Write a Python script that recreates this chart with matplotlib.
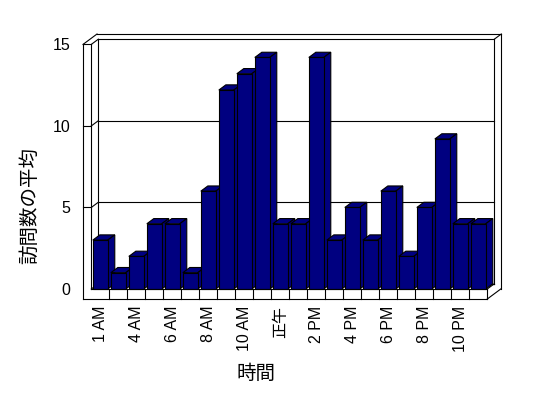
import numpy as np
import matplotlib.pyplot as plt
from matplotlib.patches import Polygon

horas = ['1 AM', '3 AM', '4 AM', '5 AM', '6 AM', '7 AM', '8 AM', '9 AM', '10 AM', '11 AM', '正午',
         '1 PM', '2 PM', '3 PM', '4 PM', '5 PM', '6 PM', '7 PM', '8 PM', '9 PM', '10 PM', '11 PM']
visitas = [3, 1, 2, 4, 4, 1, 6, 12.2, 13.2, 14.2, 4, 4, 14.2, 3, 5, 3, 6, 2, 5, 9.2, 4, 4]
y_ticks = [0, 5, 10, 15]

plt.rcParams['font.family'] = ['Liberation Sans', 'Noto Sans CJK JP']

fig = plt.figure(figsize=(5.48, 3.98), dpi=100)
ax = fig.add_axes([91.3 / 548, 109 / 398, 396 / 548, 244.6 / 398])

n = len(visitas)
x = np.arange(n)
x0, x1 = -0.5, n - 0.5
ymax = y_ticks[-1]
dx, dy = 0.389, 0.319      # profundidade do efeito 3D
xo, yb = x0 - 0.46, -0.613  # espessura da parede e do piso

ax.set_xlim(x0, x1)
ax.set_ylim(0, ymax)
for s in ax.spines.values():
    s.set_visible(False)
ax.patch.set_visible(False)


def linha(xs, ys, z=1):
    ax.plot(xs, ys, color='black', lw=0.8, clip_on=False, zorder=z)


# parede esquerda
linha([xo, xo], [yb, ymax])
linha([x0, x0], [0, ymax])
linha([xo, x0], [ymax, ymax])
linha([xo, xo + 2 * dx], [ymax, ymax + 2 * dy])
linha([x0, x0 + dx], [ymax, ymax + dy])

# parede do fundo
linha([xo + 2 * dx, x1 + 2 * dx], [ymax + 2 * dy, ymax + 2 * dy])
linha([x0 + dx, x1 + dx], [ymax + dy, ymax + dy])
linha([x1 + dx, x1 + 2 * dx], [ymax + dy, ymax + 2 * dy])
linha([x0 + dx, x0 + dx], [dy, ymax + dy])
linha([x1 + dx, x1 + dx], [dy, ymax + dy])
linha([x1 + 2 * dx, x1 + 2 * dx], [yb + 2 * dy, ymax + 2 * dy])

# piso
linha([x0, x1], [0, 0], z=50)
linha([xo, x1], [yb, yb], z=50)
linha([x1, x1], [yb, 0], z=50)
linha([x1, x1 + dx], [0, dy], z=50)
linha([x1, x1 + 2 * dx], [yb, yb + 2 * dy], z=50)
linha([x0 + dx, x1 + dx], [dy, dy])
for k in range(1, n):
    linha([x0 + k, x0 + k], [yb, 0], z=50)

# grade
for v in y_ticks[:-1]:
    linha([x0 + dx, x1 + dx], [v + dy, v + dy])
    linha([x0, x0 + dx], [v, v + dy])
    if v > 0:
        linha([xo, x0], [v, v])

# barras
w = 0.83
barras = ax.bar(x, visitas, width=w, color='#000080', edgecolor='black', lw=0.8)
for i, b in enumerate(barras):
    xl = b.get_x()
    xr = xl + w
    h = b.get_height()
    topo = Polygon([(xl, h), (xr, h), (xr + dx, h + dy), (xl + dx, h + dy)],
                   closed=True, fc='#000080', ec='black', lw=0.8, clip_on=False, zorder=3 + 2 * i)
    lado = Polygon([(xr, 0), (xr + dx, dy), (xr + dx, h + dy), (xr, h)],
                   closed=True, fc='#000080', ec='black', lw=0.8, clip_on=False, zorder=3 + 2 * i)
    ax.add_patch(topo)
    ax.add_patch(lado)
    b.set_zorder(4 + 2 * i)
    b.set_clip_on(False)

ax.set_xticks(x[::2])
ax.set_xticklabels(horas[::2], rotation=90, fontsize=11.5)
ax.set_yticks(y_ticks)
ax.set_yticklabels([str(v) for v in y_ticks], fontsize=11.5)
ax.tick_params(axis='x', length=0, pad=12)
ax.tick_params(axis='y', length=0, pad=15)

fig.text(30 / 548, 1 - 205 / 398, '訪問数の平均', rotation=90, ha='center', va='center', fontsize=14)
fig.text(256.5 / 548, 1 - 374 / 398, '時間', ha='center', va='center', fontsize=14)

fig.savefig('out.png', dpi=100)
